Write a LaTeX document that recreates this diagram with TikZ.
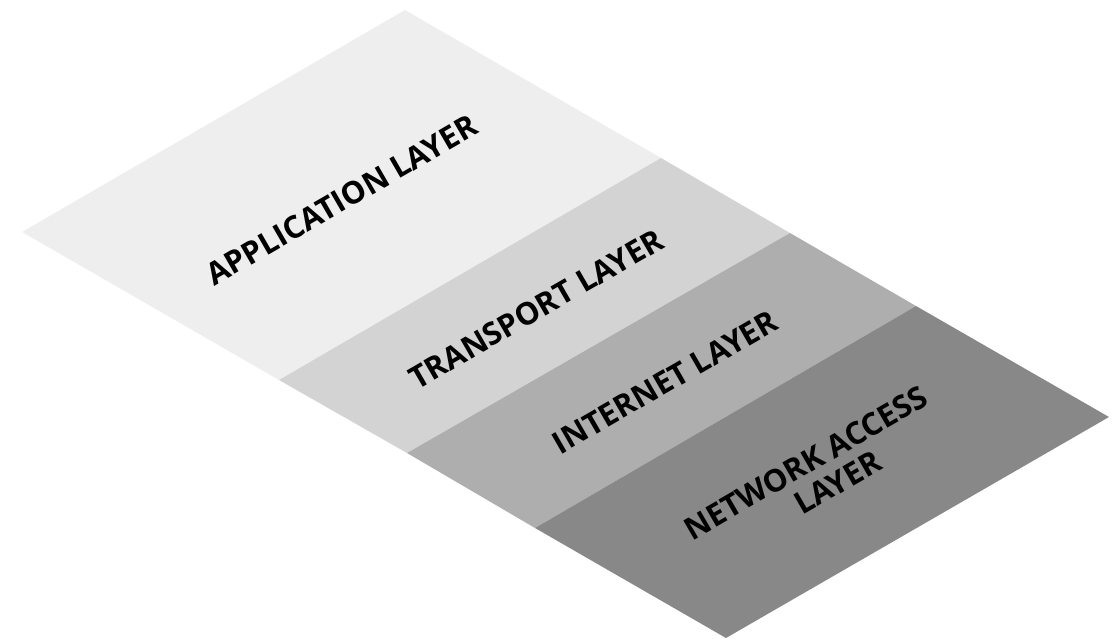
\documentclass[tikz,border=0pt]{standalone}
\usepackage{fontspec}
\setmainfont{Open Sans}
\definecolor{appc}{HTML}{EEEEEE}
\definecolor{trac}{HTML}{D3D3D3}
\definecolor{intc}{HTML}{AEAEAE}
\definecolor{netc}{HTML}{888888}
\begin{document}
\begin{tikzpicture}[x=1pt,y=-1pt,
  lbl/.style={font=\bfseries\fontsize{31}{33}\selectfont, rotate=30, align=center, text=black, inner sep=0pt}]
\useasboundingbox (0,0) rectangle (1117,644);
% corners
\coordinate (T) at (405,10);
\coordinate (L) at (22,232);
\coordinate (R) at (1109,417);
\coordinate (B) at (726,638);
\coordinate (a1) at (661,158);
\coordinate (a2) at (279,380);
\coordinate (b1) at (790,233);
\coordinate (b2) at (407,453);
\coordinate (c1) at (916,306);
\coordinate (c2) at (535,528);
\fill[appc] (T) -- (a1) -- (a2) -- (L) -- cycle;
\fill[trac] (a1) -- (b1) -- (b2) -- (a2) -- cycle;
\fill[intc] (b1) -- (c1) -- (c2) -- (b2) -- cycle;
\fill[netc] (c1) -- (R) -- (B) -- (c2) -- cycle;
\node[lbl] (app) at (341.75,200) {APPLICATION LAYER};
\node[lbl] (tra) at (536,309) {TRANSPORT LAYER};
\node[lbl] (int) at (665,382) {INTERNET LAYER};
\node[lbl] (net) at (814,477) {NETWORK ACCESS\\\hspace*{36pt}LAYER};
\end{tikzpicture}
\end{document}
